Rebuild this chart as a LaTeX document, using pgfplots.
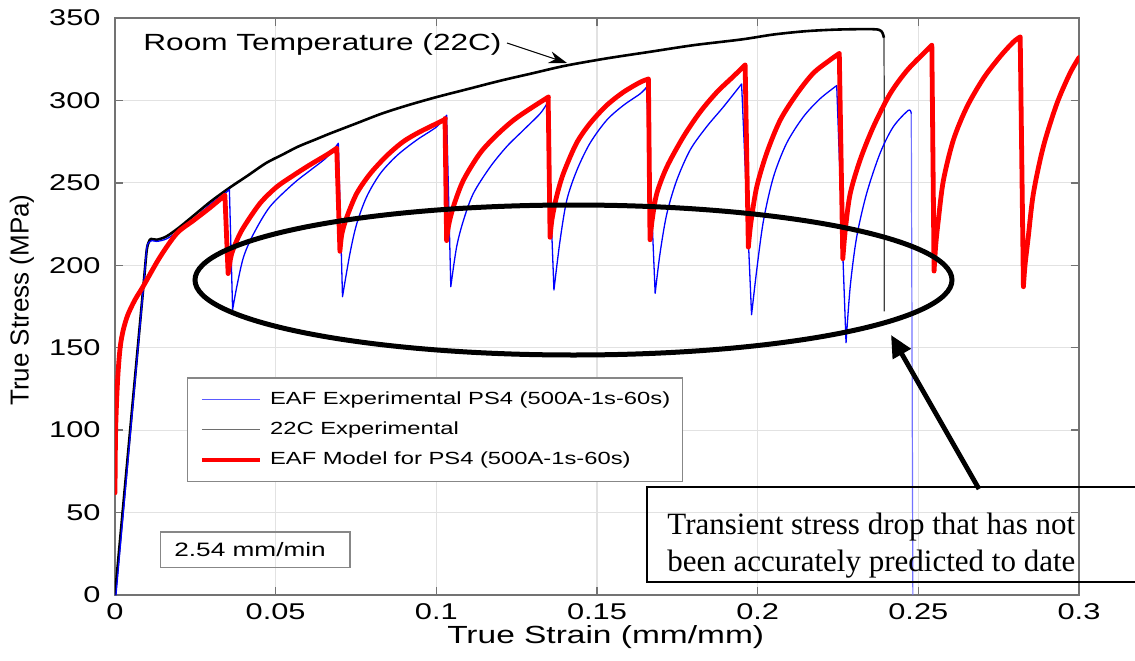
\documentclass[border=0pt]{standalone}
\usepackage{pgfplots}
\pgfplotsset{compat=1.18}
\usepackage{fontspec}
\usetikzlibrary{arrows.meta}
\setmainfont{Liberation Sans}
\newfontfamily\widesans{Liberation Sans}[FakeStretch=1.35]
\newfontfamily\serifnote{Liberation Serif}
\newcommand\tickfont{\widesans\fontsize{11.4}{13}\selectfont}
\newcommand\labfont{\widesans\fontsize{12.4}{14}\selectfont}
\newcommand\ylabfont{\fontsize{13}{15}\selectfont}
\newcommand\legfont{\widesans\fontsize{8.8}{10}\selectfont}
\newcommand\roomfont{\widesans\fontsize{11.7}{13}\selectfont}
\newcommand\ratefont{\widesans\fontsize{9.7}{11}\selectfont}
\newcommand\notefont{\serifnote\fontsize{15.5}{18.5}\selectfont}
\definecolor{gridgray}{RGB}{226,226,226}
\definecolor{axisgray}{RGB}{115,115,115}
\definecolor{boxgray}{RGB}{135,135,135}
\definecolor{legblue}{RGB}{90,90,255}
\definecolor{leggray}{RGB}{110,110,110}

\begin{document}
\begin{tikzpicture}
\begin{axis}[
  at={(0pt,0pt)}, anchor=south west,
  scale only axis, width=482pt, height=288.5pt,
  xmin=0, xmax=0.3, ymin=0, ymax=350,
  scaled ticks=false,
  xtick={0,0.05,0.1,0.15,0.2,0.25,0.3},
  xticklabels={0,0.05,0.1,0.15,0.2,0.25,0.3},
  ytick={0,50,100,150,200,250,300,350},
  yticklabels={0,50,100,150,200,250,300,350},
  tick pos=both, tick align=inside,
  major tick length=4pt,
  tick style={axisgray, line width=0.7pt},
  grid=major,
  major grid style={line width=0.6pt, gridgray},
  axis line style={line width=0.9pt, axisgray},
  ticklabel style={font=\tickfont, text=black},
  xticklabel style={inner sep=0pt, anchor=north, yshift=-4pt},
  yticklabel style={inner sep=0pt, anchor=east, xshift=-7pt},
  xlabel={True Strain (mm/mm)},
  ylabel={True Stress (MPa)},
  xlabel style={at={(axis description cs:0.509,-0.0725)}, anchor=center, inner sep=0pt, font=\labfont},
  ylabel style={at={(axis description cs:-0.0965,0.511)}, anchor=center, inner sep=0pt, font=\ylabfont},
  unbounded coords=jump,
  legend cell align=left,
  legend style={at={(0.0744,0.377)}, anchor=north west,
    draw=boxgray, line width=0.6pt, fill=white,
    font=\legfont, inner xsep=6.2pt, inner ysep=6.7pt,
    row sep=7.3pt, column sep=4pt, nodes={inner sep=0pt}},
]
\addlegendimage{legend image code/.code={\draw[legblue, line width=0.7pt] (0pt,0pt) -- (29pt,0pt);}}
\addlegendentry{EAF Experimental PS4 (500A-1s-60s)}
\addlegendimage{legend image code/.code={\draw[leggray, line width=0.7pt] (0pt,0pt) -- (29pt,0pt);}}
\addlegendentry{22C Experimental}
\addlegendimage{legend image code/.code={\draw[red, line width=2.2pt] (0pt,0pt) -- (29pt,0pt);}}
\addlegendentry{EAF Model for PS4 (500A-1s-60s)}

% room temperature test
\addplot[forget plot, black, line width=1.3pt, line join=round, smooth] coordinates {
(0,0) (0.0085,180) (0.0098,208) (0.0105,214) (0.0112,216) (0.013,215.5)
(0.016,217.5) (0.02,223) (0.025,231) (0.03,239) (0.036,247.5) (0.041,254)
(0.047,262) (0.052,267) (0.057,272) (0.062,276) (0.067,280) (0.075,286)
(0.083,292) (0.091,297) (0.1,302) (0.11,307) (0.12,312) (0.13,316.5)
(0.14,321) (0.153,325.5) (0.1665,329.5) (0.18,333.5) (0.195,337)
(0.205,340) (0.215,342) (0.225,343) (0.236,343.2) (0.2385,342)
(0.2393,338)
};
% fracture of the room temperature specimen
\addplot[forget plot, black!75, line width=0.6pt] coordinates {
(0.2393,338) (0.2394,300) (0.2394,172)
};

% electrically assisted test: one piece per loading stage and per current pulse
\addplot[forget plot, blue, line width=0.65pt, line join=round, line cap=round, smooth] coordinates {
(0.0003,0) (0.0085,179) (0.0098,209) (0.0106,214) (0.0115,215) (0.013,214.5)
(0.016,216) (0.02,221) (0.025,229) (0.03,237.5) (0.0345,244) (0.0356,246)
(0.0356,nan)
(0.0356,246) (0.0366,173)
(0.0366,nan)
(0.0366,173) (0.0379,187) (0.040,205) (0.0431,219) (0.0482,235.5) (0.0555,249.5)
(0.0607,257.5) (0.0659,265.5) (0.0695,274)
(0.0695,nan)
(0.0695,274) (0.0708,181)
(0.0708,nan)
(0.0708,181) (0.0731,207) (0.0752,225) (0.0783,241.5) (0.0825,255.5) (0.0877,266.5)
(0.0939,276) (0.1001,284) (0.1032,291)
(0.1032,nan)
(0.1032,291) (0.1045,187)
(0.1045,nan)
(0.1045,187) (0.1063,211) (0.1084,227) (0.1115,243.5) (0.1167,259.5) (0.1219,272)
(0.1271,282) (0.1323,292) (0.1344,298)
(0.1344,nan)
(0.1344,298) (0.1366,185)
(0.1366,nan)
(0.1366,185) (0.1385,215) (0.1406,239.5) (0.1437,257.5) (0.1478,274) (0.153,288)
(0.1582,297) (0.1634,304) (0.1654,308)
(0.1654,nan)
(0.1654,308) (0.1681,183)
(0.1681,nan)
(0.1681,183) (0.1696,207) (0.1717,231) (0.1748,251.5) (0.179,270) (0.1841,284)
(0.1893,296) (0.195,310)
(0.195,nan)
(0.195,310) (0.1981,170)
(0.1981,nan)
(0.1981,170) (0.1997,197) (0.2018,227) (0.2049,253.5) (0.209,274) (0.2142,290)
(0.2194,301) (0.2246,309)
(0.2246,nan)
(0.2246,309) (0.2275,153)
(0.2275,nan)
(0.2275,153) (0.2288,187) (0.2308,217) (0.2339,243.5) (0.2381,268) (0.2422,284)
(0.2469,294) (0.2478,292)
};
% fracture of the pulsed specimen
\addplot[forget plot, blue!55, line width=0.6pt] coordinates {
(0.2478,292) (0.2483,0)
};

% model prediction: one piece per loading stage and per current pulse
\addplot[forget plot, red, line width=2.4pt, line join=round, line cap=round, smooth] coordinates {
(0,62) (0.0002,100) (0.0008,130) (0.0016,150) (0.0026,161) (0.004,170)
(0.0062,179) (0.0087,187) (0.014,205) (0.0193,219.5) (0.0243,227)
(0.0296,235) (0.0342,242.5)
(0.0342,nan)
(0.0342,242.5) (0.0352,195)
(0.0352,nan)
(0.0352,195) (0.0357,201) (0.0363,207) (0.0379,215) (0.040,223) (0.0451,237.5)
(0.0503,247.5) (0.0555,254.5) (0.0607,261) (0.0659,267) (0.069,271)
(0.069,nan)
(0.069,271) (0.0700,208.5)
(0.0700,nan)
(0.0700,208.5) (0.0706,219) (0.0721,229) (0.0752,243.5) (0.0794,255.5) (0.0846,266.5)
(0.0897,275) (0.0949,281) (0.1022,288) (0.1027,289)
(0.1027,nan)
(0.1027,289) (0.1032,215)
(0.1032,nan)
(0.1032,215) (0.1038,224) (0.1053,235.5) (0.1084,251.5) (0.1136,268) (0.1188,279)
(0.124,288) (0.1292,295) (0.1344,301.5) (0.1348,302)
(0.1348,nan)
(0.1348,302) (0.1354,217)
(0.1354,nan)
(0.1354,217) (0.1360,228) (0.1374,241.5) (0.1395,255.5) (0.1436,274) (0.1478,286)
(0.153,297) (0.1582,305) (0.1634,311) (0.166,313)
(0.166,nan)
(0.166,313) (0.1665,215.5)
(0.1665,nan)
(0.1665,215.5) (0.1672,228) (0.1686,243.5) (0.1717,259.5) (0.1769,278) (0.1821,293)
(0.1873,305) (0.1924,314.5) (0.1961,321.5)
(0.1961,nan)
(0.1961,321.5) (0.1971,211)
(0.1971,nan)
(0.1971,211) (0.1979,226) (0.1997,247.5) (0.2028,268) (0.207,288) (0.2122,304)
(0.2173,316.5) (0.2225,324.5) (0.2254,328.5)
(0.2254,nan)
(0.2254,328.5) (0.2265,204)
(0.2265,nan)
(0.2265,204) (0.2273,222) (0.2288,243.5) (0.2319,264) (0.236,284) (0.2412,304)
(0.2464,318) (0.2516,328.5) (0.2542,333.5)
(0.2542,nan)
(0.2542,333.5) (0.2549,196.5)
(0.2549,nan)
(0.2549,196.5) (0.2554,212) (0.2562,227) (0.2578,251.5) (0.2609,276) (0.2651,296)
(0.2703,313.5) (0.2754,326.5) (0.2796,335.5) (0.2817,338.5)
(0.2817,nan)
(0.2817,338.5) (0.2827,187)
(0.2827,nan)
(0.2827,187) (0.2832,200) (0.2842,217) (0.2858,243.5) (0.2889,272) (0.2931,298)
(0.2972,316.5) (0.3,326)
};
\end{axis}

% callouts
\node[anchor=west, inner sep=0pt, font=\roomfont] at (14pt,275.5pt) {Room Temperature (22C)};
\draw[line width=0.5pt, -{Stealth[length=9pt,width=6pt]}] (196pt,276pt) -- (226pt,266pt);

\draw[line width=0.6pt, draw=boxgray] (22.85pt,13.65pt) rectangle (117.5pt,31.5pt);
\node[anchor=base west, inner sep=0pt, font=\ratefont] at (29.5pt,19.5pt) {2.54 mm/min};

\draw[line width=2.5pt] (229.25pt,157.5pt) ellipse [x radius=189.25pt, y radius=37.5pt];
\draw[line width=2.4pt, -{Triangle[length=11pt,width=10pt]}] (432pt,53pt) -- (388pt,130pt);
\draw[line width=0.9pt] (266pt,6.5pt) rectangle (520pt,54pt);
\node[anchor=base west, inner sep=0pt, font=\notefont] at (276pt,30.5pt) {Transient stress drop that has not};
\node[anchor=base west, inner sep=0pt, font=\notefont] at (276pt,12pt) {been accurately predicted to date};

\pgfresetboundingbox
\path[use as bounding box] (-57.5pt,-32.5pt) rectangle (510pt,297.5pt);
\end{tikzpicture}
\end{document}
